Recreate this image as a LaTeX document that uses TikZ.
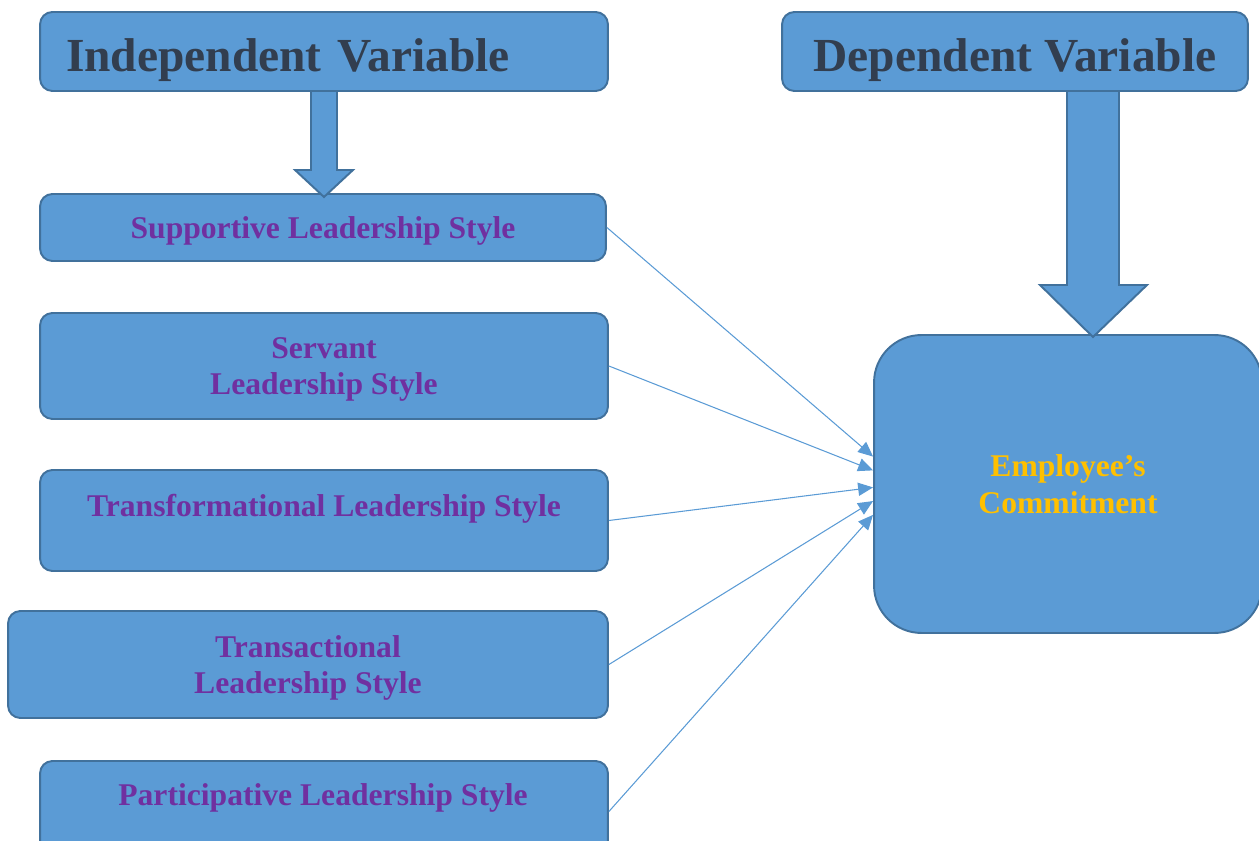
\documentclass[tikz,border=0pt]{standalone}
\usepackage{fontspec}
\setmainfont{Liberation Serif}
\usetikzlibrary{arrows.meta}
\definecolor{custom-blue}{RGB}{91, 155, 213}
\definecolor{custom-edge}{RGB}{65, 113, 156}
\definecolor{custom-slate}{RGB}{50, 62, 79}
\definecolor{custom-purple}{RGB}{112, 48, 160}
\definecolor{custom-gold}{RGB}{255, 192, 0}

\begin{document}
\begin{tikzpicture}[x=0.02cm, y=-0.02cm,
        box/.style={draw=custom-edge, fill=custom-blue, line width=1.1pt, rounded corners=7pt, inner sep=0pt},
        head/.style={box, font=\fontsize{27}{32}\selectfont\bfseries, text=custom-slate, minimum height=1.58cm, text height=23pt, text depth=0pt},
        subtext/.style={font=\fontsize{18}{21}\selectfont\bfseries, text=custom-purple, align=center, text depth=0pt},
        sub/.style={box, subtext},
        link/.style={draw=custom-blue, line width=0.6pt, -{Triangle[length=8.5pt, width=7.5pt]}}]
                \useasboundingbox (0, 0) rectangle (1259, 841);
                \clip (0, 0) rectangle (1259, 841);
                \node[head, minimum width=11.36cm, text width=10.32cm, align=left] (iv) at (324, 51.5) {Independent Variable};
                \node[head, minimum width=9.32cm] (dv) at (1015, 51.5) {Dependent Variable};
                \node[sub, minimum width=11.32cm, minimum height=1.34cm] (sup) at (323, 227.5) {Supportive Leadership Style};
                \node[sub, minimum width=11.36cm, minimum height=2.12cm] (ser) at (324, 366) {Servant\\Leadership Style};
                \node[sub, minimum width=11.36cm, minimum height=2.02cm] (tfm) at (324, 520.5) {};
                \node[subtext] (tfm-text) at (324, 505) {Transformational Leadership Style};
                \node[sub, minimum width=12cm, minimum height=2.14cm] (trc) at (308, 664.5) {Transactional\\Leadership Style};
                \node[sub, minimum width=11.36cm, minimum height=2.02cm] (par) at (324, 811.5) {};
                \node[subtext] (par-text) at (323, 795) {Participative Leadership Style};
                \node[box, subtext, rounded corners=27pt, minimum width=7.76cm, minimum height=5.96cm, text=custom-gold] (ec) at (1068, 484) {Employee’s\\Commitment};
                \filldraw[fill=custom-blue, draw=custom-edge, line width=1.1pt, line join=miter] (311, 91) -- (311, 170) -- (295, 170) -- (324, 197) -- (353, 170) -- (337, 170) -- (337, 91) -- cycle;
                \filldraw[fill=custom-blue, draw=custom-edge, line width=1.1pt, line join=miter] (1067, 91) -- (1067, 285) -- (1040, 285) -- (1093, 337) -- (1147, 285) -- (1119, 285) -- (1119, 91) -- cycle;
                \draw[link] (sup.east) -- (ec.172);
                \draw[link] (ser.east) -- (ec.176.8);
                \draw[link] (tfm.east) -- (ec.181.5);
                \draw[link] (trc.east) -- (ec.185.6);
                \draw[link] (par.east) -- (ec.189.7);
            \end{tikzpicture}
\end{document}
